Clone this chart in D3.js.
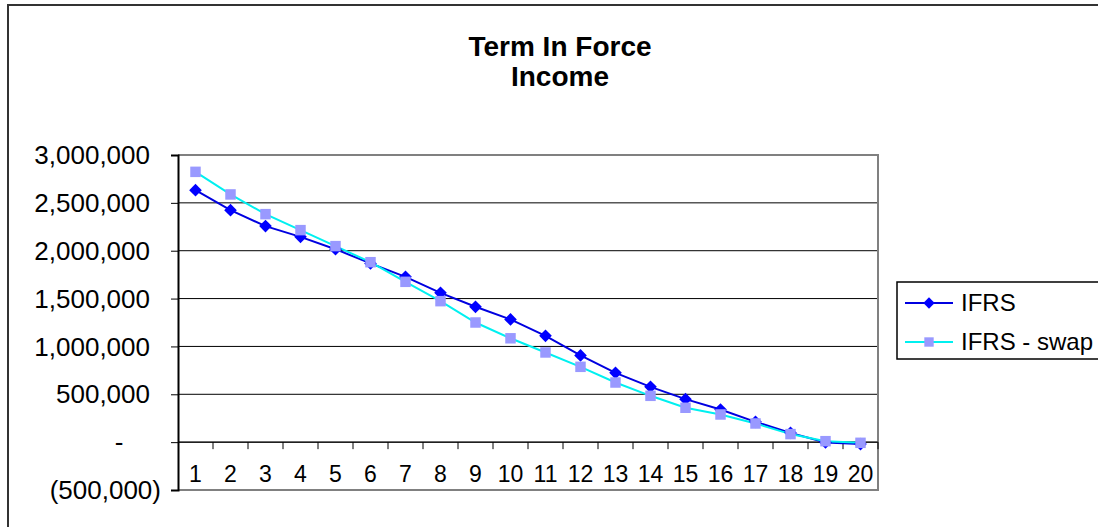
<!DOCTYPE html>
<html>
<head>
<meta charset="utf-8">
<script src="https://cdn.jsdelivr.net/npm/d3@7"></script>
<style>
  body { margin: 0; background: #fff; }
  text { font-family: "Liberation Sans", Arial, sans-serif; fill: #000; }
</style>
</head>
<body>
<svg></svg>
<script>
var width = 1098,
    height = 527;

// data
var years = d3.range(1, 21);
var ifrs = [2633000, 2424000, 2257000, 2145000, 2016000, 1867000, 1727000, 1560000, 1414000, 1282000,
            1111000, 906000, 724000, 578000, 449000, 341000, 212000, 97000, -3000, -20000];
var ifrsSwap = [2824000, 2588000, 2382000, 2215000, 2048000, 1880000, 1675000, 1473000, 1250000, 1085000,
                937000, 787000, 623000, 484000, 359000, 289000, 195000, 84000, 10000, -7000];
var yTicks = [-500000, 0, 500000, 1000000, 1500000, 2000000, 2500000, 3000000];
var titleLines = ["Term In Force", "Income"];
var seriesNames = ["IFRS", "IFRS - swap"];

var plot = { left: 178, right: 878, top: 155, bottom: 490 };

var svg = d3.select("svg")
    .attr("width", width)
    .attr("height", height);

// outer chart border (runs off the right / bottom of the picture)
svg.append("rect")
    .attr("x", 8).attr("y", 5)
    .attr("width", 1200).attr("height", 600)
    .attr("fill", "none")
    .attr("stroke", "#333")
    .attr("stroke-width", 2);

svg.selectAll(".title")
    .data(titleLines)
    .enter().append("text")
    .attr("class", "title")
    .attr("x", 560)
    .attr("y", (d, i) => 56 + i * 30)
    .attr("text-anchor", "middle")
    .style("font-size", "28px")
    .style("font-weight", "bold")
    .text(d => d);

var x = d3.scaleBand()
    .domain(years)
    .range([plot.left, plot.right]);

var y = d3.scaleLinear()
    .domain([-500000, 3000000])
    .range([plot.bottom, plot.top]);

// gridlines
svg.append("g")
    .selectAll("line")
    .data(yTicks.filter(d => d > -500000 && d < 3000000))
    .enter().append("line")
    .attr("x1", plot.left).attr("x2", plot.right)
    .attr("y1", d => y(d)).attr("y2", d => y(d))
    .attr("stroke", "#000")
    .attr("stroke-width", 1);

// plot area border (top, right, bottom)
svg.append("path")
    .attr("d", "M" + plot.left + "," + plot.top + "H" + plot.right + "V" + plot.bottom + "H" + plot.left)
    .attr("fill", "none")
    .attr("stroke", "#808080")
    .attr("stroke-width", 2);

// y axis
var yAxis = svg.append("g")
    .attr("transform", "translate(" + plot.left + ",0)")
    .call(d3.axisLeft(y).tickValues(yTicks).tickSize(7).tickFormat(""));
yAxis.select(".domain").attr("stroke", "#000").attr("stroke-width", 2);
yAxis.selectAll(".tick line").attr("stroke", "#000");

function fmt(d) {
    if (d === 0) return "-";
    if (d < 0) return "(" + d3.format(",")(-d) + ")";
    return d3.format(",")(d);
}

svg.append("g")
    .selectAll("text")
    .data(yTicks)
    .enter().append("text")
    .attr("x", d => d === 0 ? 119 : (d < 0 ? 161 : 150))
    .attr("y", d => y(d))
    .attr("dy", "0.35em")
    .attr("text-anchor", d => d === 0 ? "middle" : "end")
    .style("font-size", "26px")
    .text(fmt);

// x axis at zero
var xAxis = svg.append("g")
    .attr("transform", "translate(0," + y(0) + ")");
xAxis.append("line")
    .attr("x1", plot.left).attr("x2", plot.right)
    .attr("stroke", "#000").attr("stroke-width", 1);
xAxis.selectAll(".xt")
    .data(years.slice(1).concat([21]))
    .enter().append("line")
    .attr("x1", d => x(d - 1) + x.bandwidth())
    .attr("x2", d => x(d - 1) + x.bandwidth())
    .attr("y1", 0).attr("y2", 7)
    .attr("stroke", "#000");

svg.append("g")
    .selectAll("text")
    .data(years)
    .enter().append("text")
    .attr("x", d => x(d) + x.bandwidth() / 2)
    .attr("y", 482)
    .attr("text-anchor", "middle")
    .style("font-size", "23px")
    .text(d => d);

var cx = d => x(d) + x.bandwidth() / 2;

var series = [
    { name: seriesNames[0], values: ifrs, line: "#0000e0", marker: "#0000ff", size: 80, rotate: 45 },
    { name: seriesNames[1], values: ifrsSwap, line: "#00f0f0", marker: "#9999ff", size: 110, rotate: 0 }
];

var line = d3.line()
    .x((d, i) => cx(years[i]))
    .y(d => y(d));

series.forEach(s => {
    svg.append("path")
        .datum(s.values)
        .attr("d", line)
        .attr("fill", "none")
        .attr("stroke", s.line)
        .attr("stroke-width", 2);
});

series.forEach(s => {
    svg.append("g")
        .selectAll("path")
        .data(s.values)
        .enter().append("path")
        .attr("transform", (d, i) => "translate(" + [cx(years[i]), y(d)] + ") rotate(" + s.rotate + ")")
        .attr("d", d3.symbol().type(d3.symbolSquare).size(s.size))
        .attr("fill", s.marker);
});

// legend
var legend = svg.append("g");
legend.append("rect")
    .attr("x", 897).attr("y", 282)
    .attr("width", 400).attr("height", 77)
    .attr("fill", "#fff")
    .attr("stroke", "#000")
    .attr("stroke-width", 1.5);

var rows = legend.selectAll(".row")
    .data(series)
    .enter().append("g")
    .attr("transform", (d, i) => "translate(0," + (303 + i * 39) + ")");
rows.append("line")
    .attr("x1", 905).attr("x2", 953)
    .attr("stroke", d => d.line)
    .attr("stroke-width", 2);
rows.append("path")
    .attr("transform", d => "translate(929,0) rotate(" + d.rotate + ")")
    .attr("d", d => d3.symbol().type(d3.symbolSquare).size(d.size * 0.8)())
    .attr("fill", d => d.marker);
rows.append("text")
    .attr("x", 961)
    .attr("dy", "0.35em")
    .style("font-size", "24px")
    .text(d => d.name);
</script>
</body>
</html>
